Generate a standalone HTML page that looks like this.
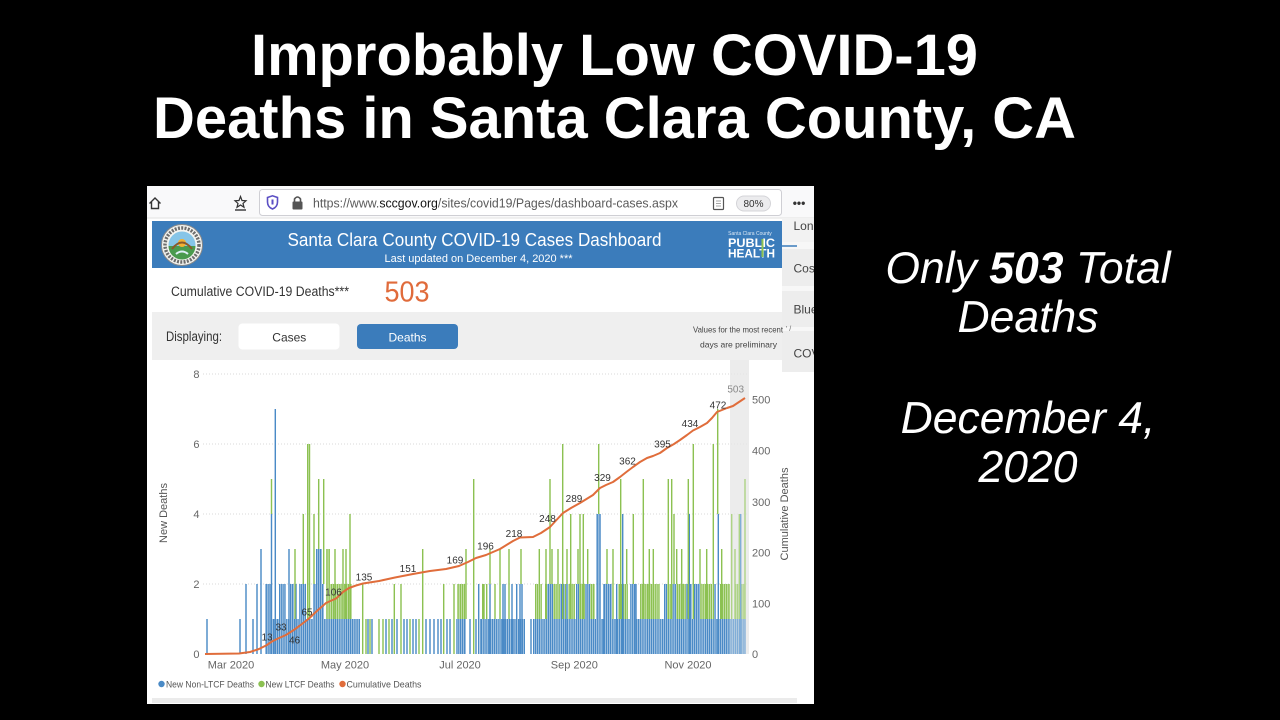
<!DOCTYPE html>
<html><head><meta charset="utf-8"><style>
html,body{margin:0;padding:0;background:#000;width:1280px;height:720px;overflow:hidden}
svg{display:block}
text{font-family:"Liberation Sans",sans-serif}
</style></head><body>
<svg width="1280" height="720" viewBox="0 0 1280 720" xmlns="http://www.w3.org/2000/svg">
<defs>
<pattern id="pb" patternUnits="userSpaceOnUse" x="0" y="0" width="1.87" height="10"><rect width="1.42" height="10" fill="#4a8ac6"/></pattern>
<pattern id="pg" patternUnits="userSpaceOnUse" x="0" y="0" width="1.87" height="10"><rect width="1.42" height="10" fill="#8cc152"/></pattern>
<clipPath id="shot"><rect x="147" y="186" width="667" height="518"/></clipPath>
</defs>
<rect width="1280" height="720" fill="#000"/>

<!-- Title -->
<text x="614.5" y="75" font-size="58" font-weight="bold" fill="#fff" text-anchor="middle" textLength="727" lengthAdjust="spacingAndGlyphs">Improbably Low COVID-19</text>
<text x="614.5" y="138" font-size="58" font-weight="bold" fill="#fff" text-anchor="middle" textLength="923" lengthAdjust="spacingAndGlyphs">Deaths in Santa Clara County, CA</text>

<!-- Right text -->
<g font-size="44.5" font-style="italic" fill="#fff" text-anchor="middle">
<text x="1028" y="283">Only <tspan font-weight="bold">503</tspan> Total</text>
<text x="1028" y="332">Deaths</text>
<text x="1028" y="433">December 4,</text>
<text x="1028" y="482">2020</text>
</g>

<!-- Screenshot -->
<g clip-path="url(#shot)">
<rect x="147" y="186" width="667" height="518" fill="#fff"/>
<!-- toolbar -->
<rect x="147" y="186" width="667" height="32" fill="#f9f9fa"/>
<line x1="147" y1="218" x2="814" y2="218" stroke="#e2e2e2" stroke-width="1"/>
<path d="M149.5 203.5 L155 198 L160.5 203.5 M151.5 202 V208.5 H158.5 V202" stroke="#333" stroke-width="1.4" fill="none"/>
<path d="M240.5 196.5 L242 200.5 L246 200.8 L243 203.4 L244 207.3 L240.5 205 L237 207.3 L238 203.4 L235 200.8 L239 200.5 Z" stroke="#333" stroke-width="1.2" fill="none"/>
<line x1="235" y1="210" x2="246" y2="210" stroke="#333" stroke-width="1.4"/>
<rect x="259.5" y="189.5" width="522" height="26" rx="3" fill="#fff" stroke="#cfcfd4"/>
<path d="M267.5 197.5 L272.5 195.8 L277.5 197.5 V202 Q277.5 207 272.5 209 Q267.5 207 267.5 202 Z" stroke="#5b4fc4" stroke-width="1.6" fill="none"/>
<rect x="271.5" y="199.5" width="2" height="5" fill="#5b4fc4"/>
<rect x="292.5" y="201.5" width="10" height="8" rx="1" fill="#555"/>
<path d="M294.5 201.5 V199 Q297.5 195 300.5 199 V201.5" stroke="#555" stroke-width="1.6" fill="none"/>
<text x="313" y="207.5" font-size="13" fill="#5a5a5a" textLength="365" lengthAdjust="spacingAndGlyphs">https://www.<tspan fill="#111">sccgov.org</tspan>/sites/covid19/Pages/dashboard-cases.aspx</text>
<rect x="713.5" y="197.5" width="10" height="12" rx="1" fill="none" stroke="#555" stroke-width="1.2"/>
<path d="M716 201h5M716 203.5h5M716 206h5" stroke="#888" stroke-width="0.8"/>
<rect x="736.5" y="196" width="34" height="15" rx="7.5" fill="#ececee" stroke="#d4d4d8"/>
<text x="753.5" y="207" font-size="10" fill="#333" text-anchor="middle">80%</text>
<text x="799" y="207" font-size="12" font-weight="bold" fill="#333" text-anchor="middle">•••</text>

<!-- header -->
<rect x="152" y="221" width="630" height="47" fill="#3b7cbb"/>
<circle cx="182" cy="245" r="20.5" fill="#f4f4f0" stroke="#8a8a8a" stroke-width="1"/>
<circle cx="182" cy="245" r="17" fill="none" stroke="#6d6d6d" stroke-width="3.5" stroke-dasharray="2 1.3"/>
<circle cx="182" cy="245" r="13.5" fill="#86c5e8"/>
<path d="M168.5 246 A13.5 13.5 0 0 0 195.5 246 Z" fill="#4a9a4e"/>
<circle cx="182" cy="243" r="4" fill="#f2b233"/>
<path d="M172 249 Q182 236 192 249" stroke="#8a5a2b" stroke-width="2" fill="none"/>
<path d="M176 254 Q182 249 188 254" stroke="#dfeff7" stroke-width="2" fill="none"/>
<text x="287.5" y="246" font-size="18" fill="#fff" textLength="374" lengthAdjust="spacingAndGlyphs">Santa Clara County COVID-19 Cases Dashboard</text>
<text x="384.5" y="262" font-size="11" fill="#fff" textLength="188" lengthAdjust="spacingAndGlyphs">Last updated on December 4, 2020   ***</text>
<text x="750" y="235" font-size="5" fill="#dce8f4" text-anchor="middle">Santa Clara County</text>
<text x="751.5" y="247" font-size="11.5" font-weight="bold" fill="#fff" text-anchor="middle" textLength="47" lengthAdjust="spacingAndGlyphs">PUBLIC</text>
<text x="751.5" y="257.5" font-size="11.5" font-weight="bold" fill="#fff" text-anchor="middle" textLength="47" lengthAdjust="spacingAndGlyphs">HEALTH</text>
<rect x="761.5" y="239" width="2" height="18" fill="#8cc152"/>

<!-- right panel -->
<rect x="782" y="218" width="32" height="154" fill="#f7f7f7"/>
<rect x="782" y="218" width="32" height="24" fill="#f2f2f2"/>
<rect x="782" y="249" width="32" height="37" fill="#ededed"/>
<rect x="782" y="291" width="32" height="36" fill="#ededed"/>
<rect x="782" y="331" width="32" height="41" fill="#ededed"/>
<line x1="782" y1="246" x2="797" y2="246" stroke="#3b7cbb" stroke-width="1.5"/>
<g font-size="12" fill="#444">
<text x="793.5" y="230">Long</text>
<text x="793.5" y="272.5">Cost</text>
<text x="793.5" y="313.5">Blue</text>
<text x="793.5" y="357.5">COVID</text>
</g>

<!-- metric section -->
<text x="171" y="296" font-size="13.5" fill="#333" textLength="178" lengthAdjust="spacingAndGlyphs">Cumulative COVID-19 Deaths***</text>
<text x="384.5" y="301.5" font-size="29" fill="#e06b3b" textLength="45" lengthAdjust="spacingAndGlyphs">503</text>

<!-- displaying band -->
<rect x="152" y="312" width="630" height="48" fill="#efefef"/>
<text x="166" y="341" font-size="13.5" fill="#333" textLength="56" lengthAdjust="spacingAndGlyphs">Displaying:</text>
<rect x="238.5" y="323.5" width="101" height="26" rx="4" fill="#fff"/>
<text x="289.3" y="341.5" font-size="12" fill="#333" text-anchor="middle">Cases</text>
<rect x="357" y="324" width="101" height="25" rx="4" fill="#3b7cbb"/>
<text x="407.5" y="341.5" font-size="12" fill="#fff" text-anchor="middle">Deaths</text>
<text x="783" y="332.5" font-size="8.5" fill="#444" text-anchor="end" textLength="90" lengthAdjust="spacingAndGlyphs">Values for the most recent</text>
<text x="786" y="331" font-size="7" fill="#666">' /</text>
<text x="777" y="347.5" font-size="8.5" fill="#444" text-anchor="end" textLength="77" lengthAdjust="spacingAndGlyphs">days are preliminary</text>

<!-- chart -->
<rect x="730" y="360" width="19" height="294" fill="#e4e4e4"/>
<g stroke="#d8d8d8" stroke-width="1" stroke-dasharray="1 2">
<line x1="203" y1="374" x2="748" y2="374"/>
<line x1="203" y1="444" x2="748" y2="444"/>
<line x1="203" y1="514" x2="748" y2="514"/>
<line x1="203" y1="584" x2="748" y2="584"/>
</g>

<!-- green blocks (1->2) -->
<g fill="url(#pg)">
<rect x="326" y="584" width="26" height="35"/>
<rect x="326" y="549" width="4" height="35"/>
<rect x="457" y="584" width="9" height="35"/>
<rect x="535" y="584" width="7" height="35"/>
<rect x="545" y="584" width="2" height="35"/>
<rect x="553" y="584" width="7" height="35"/>
<rect x="565" y="584" width="2" height="35"/>
<rect x="568" y="584" width="7" height="35"/>
<rect x="580" y="584" width="5" height="35"/>
<rect x="590" y="584" width="5" height="35"/>
<rect x="618" y="584" width="10" height="35"/>
<rect x="640" y="584" width="20" height="35"/>
<rect x="667" y="584" width="5" height="35"/>
<rect x="676" y="584" width="10" height="35"/>
<rect x="700" y="584" width="12" height="35"/>
<rect x="720" y="584" width="10" height="35"/>
<rect x="735" y="584" width="10" height="35"/>
</g>
<!-- blue blocks -->
<g fill="url(#pb)">
<rect x="265" y="619" width="95" height="35"/>
<rect x="265" y="584" width="7" height="35"/>
<rect x="279" y="584" width="7" height="35"/>
<rect x="290" y="584" width="4" height="35"/>
<rect x="299" y="584" width="7" height="35"/>
<rect x="313" y="584" width="11" height="35"/>
<rect x="316" y="549" width="6" height="35"/>
<rect x="456" y="619" width="10" height="35"/>
<rect x="480" y="619" width="45" height="35"/>
<rect x="533" y="619" width="213" height="35"/>
<rect x="547" y="584" width="6" height="35"/>
<rect x="560" y="584" width="5" height="35"/>
<rect x="576" y="584" width="3" height="35"/>
<rect x="585" y="584" width="5" height="35"/>
<rect x="596" y="514" width="5" height="105"/>
<rect x="604" y="584" width="8" height="35"/>
<rect x="630" y="584" width="6" height="35"/>
<rect x="664" y="584" width="3" height="35"/>
<rect x="672" y="584" width="4" height="35"/>
<rect x="686" y="584" width="6" height="35"/>
<rect x="694" y="584" width="6" height="35"/>
<rect x="713" y="584" width="3" height="35"/>
</g>
<!-- blue spikes -->
<path fill="none" stroke="#4a8ac6" stroke-width="1.42" d="M207 654V619M240 654V619M246 654V584M253 654V619M257 654V584M261 654V549M271.5 654V514M275.3 654V409M289 654V549M296 654V584M368 654V619M372 654V619M386 654V619M392 654V619M397 654V619M404 654V619M407 654V619M413 654V619M416 654V619M426 654V619M430 654V619M434 654V619M438 654V619M441 654V619M447 654V619M450 654V619M470 654V619M476 654V619M478.7 654V584M481 654V619M490 654V584M503 654V584M505 654V584M512 654V584M516.7 654V584M520 654V584M522 654V584M531 654V619M567 654V584M604 654V584M616.7 654V584M622.7 654V514M636 654V584M689.3 654V514M718.3 654V514M740.7 654V514"/>
<!-- green spikes -->
<path fill="none" stroke="#8cc152" stroke-width="1.42" d="M271.5 514V479M295 619V549M303.3 584V514M307.7 619V444M309.5 619V444M314 584V514M318.7 549V479M323.7 584V479M335 619V549M343 619V549M346 619V549M350 619V514M362.7 654V584M366 654V619M370 654V619M379 654V619M383 654V619M389 654V619M394.3 654V584M401 654V584M410 654V619M419 654V619M422.7 654V549M443.7 654V584M454 654V584M466 619V549M473.7 654V479M484 619V584M482.7 619V584M486.7 619V584M490 584V549M495 619V584M500 619V549M509 619V549M521 584V549M539.3 584V549M546 619V549M550 584V479M552 584V549M558 584V549M562.7 619V444M567 584V549M570.7 619V514M578 584V549M580 619V514M583.3 619V514M587.7 584V549M598.7 514V444M607 584V549M613 619V549M620.7 619V479M626.7 584V549M633.3 584V514M643.3 619V479M649.3 619V549M653.3 619V549M668.3 619V479M671.7 619V479M674 584V514M676.7 584V549M681.7 619V549M688.3 619V479M693.3 619V444M700 584V549M706.7 619V549M713.3 619V444M717.7 514V409M721.7 619V549M731.7 619V514M735 619V549M739.3 619V514M745 619V479"/>
<!-- preliminary overlay -->
<rect x="730" y="360" width="19" height="294" fill="#fff" opacity="0.3"/>

<!-- cumulative line -->
<polyline fill="none" stroke="#e06d3b" stroke-width="2" stroke-linejoin="round" points="205,654 239,653.5 250,652 259,649 266,645.5 272,641.5 279,638 286,635 293,630.5 300,625.5 309,618.5 318,610 326,603 336,598.5 343,592 349,588 356,585.5 363,583.5 379,581 395,577.5 413,574 430,571 446,569 459,566 468,562 476,558 486,555 500,549 513,541 520,537.5 533,537 541,533 550,527 556,520.5 563,513 571,508 580,503 593,495 600,488 606,485 613,482 620,477 627,471.5 633,467 640,462 647,458 653,456 660,453 667,448 674,444 680,440 687,435 693,430.5 700,427 707,423 712,418 717,412 722,410 727,408 733,406 739,402 745,398"/>

<!-- data labels -->
<g font-size="10" fill="#333" text-anchor="middle">
<text x="267" y="640.5">13</text>
<text x="281" y="630.5">33</text>
<text x="294.5" y="643.5">46</text>
<text x="307" y="615.5">65</text>
<text x="333.5" y="595.5">106</text>
<text x="364" y="580.5">135</text>
<text x="408" y="572">151</text>
<text x="455" y="563.5">169</text>
<text x="485.5" y="549.5">196</text>
<text x="514" y="537">218</text>
<text x="547.5" y="522">248</text>
<text x="574" y="502">289</text>
<text x="602.5" y="481">329</text>
<text x="627.5" y="464.5">362</text>
<text x="662.5" y="447.5">395</text>
<text x="690" y="427">434</text>
<text x="718" y="408.5">472</text>
<text x="735.7" y="392.5" fill="#888">503</text>
</g>

<!-- axes labels -->
<g font-size="11" fill="#666">
<g text-anchor="end">
<text x="199.5" y="378">8</text>
<text x="199.5" y="448">6</text>
<text x="199.5" y="518">4</text>
<text x="199.5" y="588">2</text>
<text x="199.5" y="658">0</text>
</g>
<text x="752" y="658">0</text>
<text x="752" y="607.5">100</text>
<text x="752" y="556.5">200</text>
<text x="752" y="506">300</text>
<text x="752" y="454.5">400</text>
<text x="752" y="403.5">500</text>
<g text-anchor="middle">
<text x="231" y="668.5">Mar 2020</text>
<text x="345" y="668.5">May 2020</text>
<text x="460" y="668.5">Jul 2020</text>
<text x="574.3" y="668.5">Sep 2020</text>
<text x="688" y="668.5">Nov 2020</text>
</g>
</g>
<text transform="translate(167,513) rotate(-90)" font-size="11" fill="#555" text-anchor="middle">New Deaths</text>
<text transform="translate(788,514) rotate(-90)" font-size="11" fill="#555" text-anchor="middle">Cumulative Deaths</text>

<!-- legend -->
<circle cx="161.5" cy="684" r="3.2" fill="#4a8ac6"/>
<text x="166" y="687.5" font-size="9.5" fill="#555" textLength="88" lengthAdjust="spacingAndGlyphs">New Non-LTCF Deaths</text>
<circle cx="261.5" cy="684" r="3.2" fill="#8cc152"/>
<text x="265.5" y="687.5" font-size="9.5" fill="#555" textLength="69" lengthAdjust="spacingAndGlyphs">New LTCF Deaths</text>
<circle cx="342.5" cy="684" r="3.2" fill="#e06d3b"/>
<text x="346.5" y="687.5" font-size="9.5" fill="#555" textLength="75" lengthAdjust="spacingAndGlyphs">Cumulative Deaths</text>

<rect x="152" y="698" width="645" height="5" fill="#ebebeb"/>
</g>
</svg>
</body></html>
